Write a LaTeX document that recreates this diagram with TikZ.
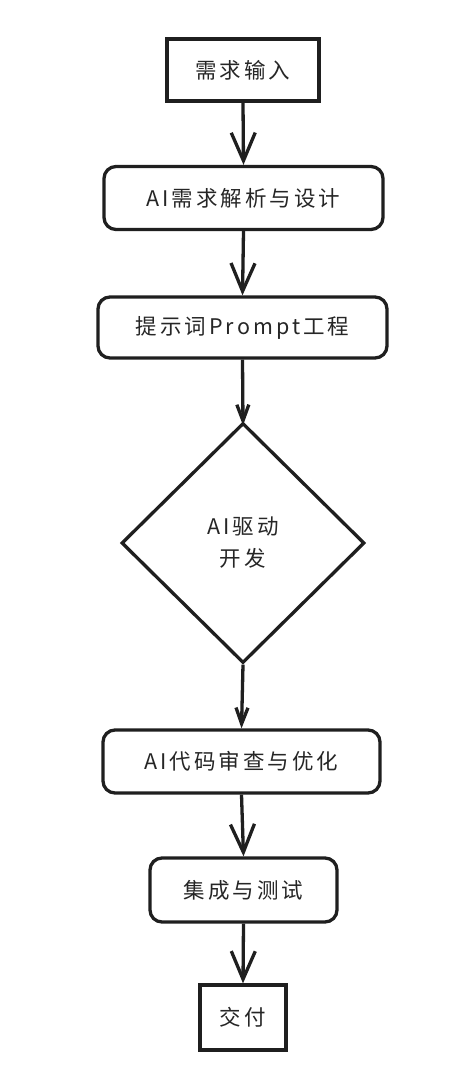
\documentclass[tikz,border=0pt]{standalone}
\usepackage{fontspec}
\setmainfont[LetterSpace=14]{Noto Sans CJK SC}
\usetikzlibrary{arrows.meta,shapes.geometric}
\begin{document}
\begin{tikzpicture}[x=1pt,y=-1pt,
  every node/.style={font=\fontsize{21.5}{30}\selectfont, text=black!85},
  sq/.style={draw=black!88, line width=3.3pt, minimum height=62pt, inner sep=0pt},
  rbox/.style={sq, rounded corners=12pt},
  big/.style={-{Straight Barb[length=28pt,width=24pt,line width=3.3pt]}, line width=3.3pt, draw=black!88},
  small/.style={-{Straight Barb[length=16pt,width=12pt,line width=3.3pt]}, line width=3.3pt, draw=black!88}]
\useasboundingbox (0,0) rectangle (458,1089);
\fill[white] (0,0) rectangle (458,1089);
\node[sq, minimum width=152pt] (n1) at (243,70) {需求输入};
\node[rbox, minimum width=279pt, minimum height=63pt] (n2) at (243.5,198) {AI需求解析与设计};
\node[rbox, minimum width=289pt, minimum height=61pt] (n3) at (242.5,327.5) {提示词Prompt工程};
\node[draw=black!88, line width=3.3pt, diamond, minimum width=243pt, minimum height=240pt, inner sep=0pt, align=center] (n4) at (243,543) {\raisebox{2pt}{AI驱动}\\开发};
\node[rbox, minimum width=277pt, minimum height=63pt] (n5) at (241.5,761.5) {AI代码审查与优化};
\node[rbox, minimum width=187pt, minimum height=64pt] (n6) at (243.5,890) {集成与测试};
\node[sq, minimum width=86pt, minimum height=65pt] (n7) at (243,1017.5) {交付};
\draw[big] (n1.south) -- (n2.north);
\draw[big] (n2.south) -- (n3.north);
\draw[small] (n3.south) -- ([yshift=-4pt]n4.north);
\draw[small] (n4.south) -- (n5.north);
\draw[big] (n5.south) -- (n6.north);
\draw[big] (n6.south) -- (n7.north);
\end{tikzpicture}
\end{document}
